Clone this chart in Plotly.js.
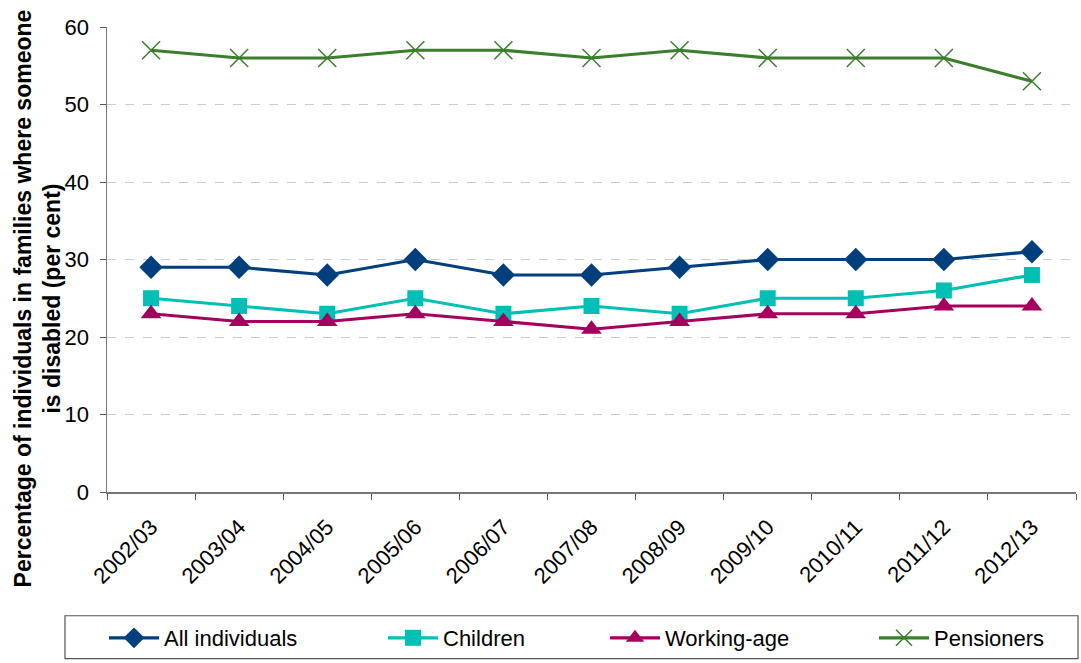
<!DOCTYPE html>
<html>
<head>
<meta charset="utf-8">
<script src="https://cdn.plot.ly/plotly-3.0.1.min.js"></script>
<style>html,body{margin:0;padding:0;background:#fff;}#chart{width:1081px;height:663px;}</style>
</head>
<body>
<div id="chart"></div>
<script>
const years = ["2002/03","2003/04","2004/05","2005/06","2006/07","2007/08","2008/09","2009/10","2010/11","2011/12","2012/13"];
const allIndividuals = [29,29,28,30,28,28,29,30,30,30,31];
const children = [25,24,23,25,23,24,23,25,25,26,28];
const workingAge = [23,22,22,23,22,21,22,23,23,24,24];
const pensioners = [57,56,56,57,57,56,57,56,56,56,53];
const yTicks = [0,10,20,30,40,50,60];
const yTitle = "<b>Percentage of individuals in families where someone<br>is disabled (per cent)</b>";

const font = "Liberation Sans, Arial, sans-serif";
const W = 1081, H = 663, L = 107, R = 5, T = 27, B = 170;
const pw = W - L - R, ph = H - T - B;
const px = v => (v - L) / pw;
const py = v => (H - B - v) / ph;

function tr(name, y, color, symbol, size, lw, leg) {
  return {x: years, y: y, name: name, type: "scatter", mode: "lines+markers", legend: leg,
    line: {color: color, width: 3.2},
    marker: {symbol: symbol, size: size, color: color, line: {color: color, width: lw || 0}}};
}
const data = [
  tr("All individuals", allIndividuals, "#003f7d", "diamond", 18, 0, "legend"),
  tr("Children", children, "#00bfb5", "square", 16, 0, "legend2"),
  tr("Working-age", workingAge, "#a5005e", "triangle-up", 18, 0, "legend3"),
  tr("Pensioners", pensioners, "#3a7f2c", "x-thin", 18, 1.5, "legend4")
];
function leg(xpx) {
  return {orientation: "h", x: px(xpx), xanchor: "left", y: py(638), yanchor: "middle",
    font: {family: font, size: 22, color: "#000"}, itemwidth: 50,
    bgcolor: "rgba(0,0,0,0)", borderwidth: 0, tracegroupgap: 0};
}
const layout = {
  width: W, height: H,
  margin: {l: L, r: R, t: T, b: B},
  paper_bgcolor: "#fff", plot_bgcolor: "#fff",
  font: {family: font, size: 22, color: "#000"},
  showlegend: true,
  legend: leg(104), legend2: leg(383), legend3: leg(605), legend4: leg(874),
  xaxis: {type: "category", categoryarray: years, range: [-0.5, 10.5], tickangle: -45,
    tickson: "boundaries", ticks: "outside", ticklen: 6, tickcolor: "#555",
    ticklabelstandoff: 12,
    showline: true, linecolor: "#777", linewidth: 1.5, showgrid: false, zeroline: false,
    tickfont: {family: font, size: 22, color: "#000"}},
  yaxis: {range: [0, 60], tickvals: yTicks, ticks: "outside", ticklen: 6, tickcolor: "#555",
    ticklabelstandoff: 6,
    showline: true, linecolor: "#777", linewidth: 1.5, zeroline: false,
    showgrid: true, gridcolor: "#cccccc", griddash: "dash", gridwidth: 1,
    tickfont: {family: font, size: 22, color: "#000"}},
  annotations: [{text: yTitle, textangle: -90, xref: "paper", yref: "paper",
    x: px(38), y: py(299), xanchor: "center", yanchor: "middle", showarrow: false,
    font: {family: font, size: 23, color: "#000"}, align: "center"}],
  shapes: [{type: "rect", xref: "paper", yref: "paper",
    x0: px(65), x1: px(1078), y0: py(617), y1: py(660),
    line: {color: "#555", width: 1.2}, fillcolor: "rgba(0,0,0,0)"}]
};
Plotly.newPlot("chart", data, layout, {displayModeBar: false, staticPlot: true});
</script>
</body>
</html>
